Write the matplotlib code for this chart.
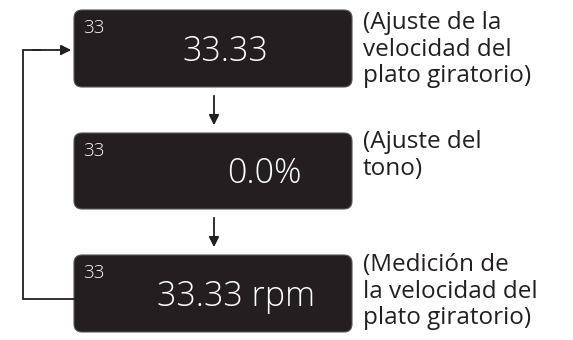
import matplotlib.pyplot as plt
from matplotlib.patches import FancyBboxPatch

plt.rcParams['font.family'] = ['Open Sans', 'DejaVu Sans']

# display contents of each step
small_labels = ["33", "33", "33"]
main_labels = ["33.33", "0.0%", "33.33 rpm"]
main_x = [225, 264, 236]
notes = ["(Ajuste de la\nvelocidad del\nplato giratorio)",
         "(Ajuste del\ntono)",
         "(Medición de\nla velocidad del\nplato giratorio)"]

# box geometry in pixels (top, bottom)
box_top = [10, 133, 255]
box_bot = [87, 209, 332]
box_left, box_right = 74, 352
note_top = [11, 130, 253]

fig = plt.figure(figsize=(5.73, 3.40), dpi=100)
ax = fig.add_axes([0, 0, 1, 1])
ax.set_xlim(0, 573)
ax.set_ylim(340, 0)
ax.axis("off")

dark = "#231f20"
for i in range(3):
    t, b = box_top[i], box_bot[i]
    box = FancyBboxPatch((box_left + 8, t + 8), box_right - box_left - 16,
                         b - t - 16, boxstyle="round,pad=8",
                         fc=dark, ec="#555555", lw=0.8)
    ax.add_patch(box)
    ax.text(83, t + 9, small_labels[i], color="white", fontsize=13.5,
            va="top", ha="left", fontweight="light")
    ax.text(main_x[i], (t + b) / 2 + 3, main_labels[i], color="white",
            fontsize=24.5, va="center", ha="center", fontweight="light")
    ax.text(363, note_top[i], notes[i], color=dark, fontsize=17.5,
            va="top", ha="left", linespacing=1.15)

# arrows between the boxes
for i in range(2):
    ax.annotate("", xy=(214, box_top[i + 1] - 5), xytext=(214, box_bot[i] + 6),
                arrowprops=dict(arrowstyle="-|>,head_length=0.6,head_width=0.3",
                                color=dark, lw=1.3))

# loop back from last box to first
ax.plot([box_left, 23, 23, 40], [299, 299, 50, 50], color=dark, lw=1.3,
        solid_joinstyle="miter")
ax.annotate("", xy=(box_left, 50), xytext=(30, 50),
            arrowprops=dict(arrowstyle="-|>,head_length=0.6,head_width=0.3",
                            color=dark, lw=1.3))

fig.savefig("out.png", dpi=100)
